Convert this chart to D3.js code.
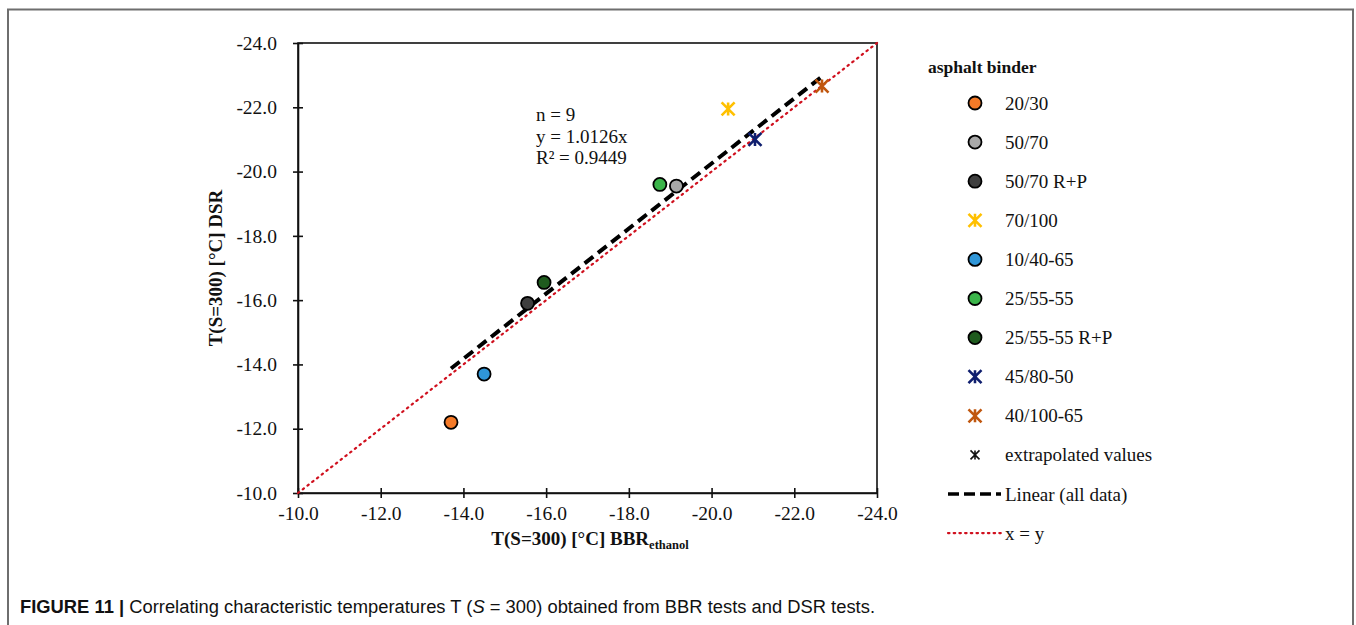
<!DOCTYPE html>
<html><head><meta charset="utf-8">
<script src="https://cdn.jsdelivr.net/npm/d3@7"></script>
<style>
html,body{margin:0;padding:0;background:#fff;}
svg{display:block;}
</style></head>
<body>
<svg id="c" width="1356" height="625"></svg>
<script>
// ---- data ----
const binders = ["20/30","50/70","50/70 R+P","70/100","10/40-65","25/55-55","25/55-55 R+P","45/80-50","40/100-65"];
const bbrValues = [-13.7,-19.15,-15.55,-20.4,-14.5,-18.75,-15.95,-21.05,-22.67];
const dsrValues = [-12.2,-19.55,-15.9,-21.95,-13.7,-19.6,-16.55,-21.0,-22.66];
const markerTypes = ["circle","circle","circle","star","circle","circle","circle","star","star"];
const markerColors = ["#F47A28","#A9A9A9","#3F3F3F","#FFC000","#2F96D8","#3BB54A","#1F5B1E","#0F1E6E","#C0570F"];
const xTicks = [-10,-12,-14,-16,-18,-20,-22,-24];
const yTicks = [-10,-12,-14,-16,-18,-20,-22,-24];
const slope = 1.0126;
const annotation = ["n = 9","y = 1.0126x","R\u00B2 = 0.9449"];

const svg = d3.select("#c");
const serif = "'Liberation Serif','Times New Roman',serif";
const fmt = d => d.toFixed(1); // keeps ASCII hyphen-minus

// frame
svg.append("path").attr("d","M8,625 V9.5 H1353 V625").attr("fill","none").attr("stroke","#6e6e6e").attr("stroke-width",2);

const x = d3.scaleLinear().domain([-10,-24]).range([298,877]);
const y = d3.scaleLinear().domain([-10,-24]).range([493,43]);

// plot box
const g = svg.append("g");
g.append("rect").attr("x",x(-10)).attr("y",y(-24)).attr("width",x(-24)-x(-10)).attr("height",y(-10)-y(-24))
 .attr("fill","none").attr("stroke","#111").attr("stroke-width",1.6);

// axes
const xAxis = d3.axisBottom(x).tickValues(xTicks).tickFormat(fmt).tickSizeInner(5).tickSizeOuter(0).tickPadding(18);
const gx = g.append("g").attr("transform",`translate(0,${y(-10)})`).call(xAxis);
gx.select(".domain").attr("stroke","#111").attr("stroke-width",1.6);
gx.selectAll(".tick line").attr("y1",-5).attr("y2",5).attr("stroke","#111").attr("stroke-width",1.6);
gx.selectAll(".tick text").attr("font-family",serif).attr("font-size",19.5).attr("fill","#111").attr("dy","0.2em");

const yAxis = d3.axisLeft(y).tickValues(yTicks).tickFormat(fmt).tickSizeInner(5).tickSizeOuter(0).tickPadding(16);
const gy = g.append("g").attr("transform",`translate(${x(-10)},0)`).call(yAxis);
gy.select(".domain").attr("stroke","#111").attr("stroke-width",1.6);
gy.selectAll(".tick line").attr("x1",-5).attr("x2",5).attr("stroke","#111").attr("stroke-width",1.6);
gy.selectAll(".tick text").attr("font-family",serif).attr("font-size",19.5).attr("fill","#111");

// x = y line
g.append("line").attr("x1",x(-10)).attr("y1",y(-10)).attr("x2",x(-24)).attr("y2",y(-24))
 .attr("stroke","#D0101E").attr("stroke-width",2.2).attr("stroke-dasharray","1.5,4.5").attr("stroke-linecap","round");

// linear fit
const xmin = d3.max(bbrValues), xmax = d3.min(bbrValues);
g.append("line").attr("x1",x(xmin)).attr("y1",y(slope*xmin)).attr("x2",x(xmax)).attr("y2",y(slope*xmax))
 .attr("stroke","#000").attr("stroke-width",4).attr("stroke-dasharray","11,6");

function drawMarker(sel, type, color, cx, cy){
  if(type==="circle"){
    sel.append("circle").attr("cx",cx).attr("cy",cy).attr("r",6.5).attr("fill",color).attr("stroke","#000").attr("stroke-width",1.8);
  } else {
    const s=6.5;
    sel.append("path").attr("d",`M${cx-s},${cy-s}L${cx+s},${cy+s}M${cx+s},${cy-s}L${cx-s},${cy+s}M${cx},${cy-s}L${cx},${cy+s}`)
      .attr("stroke",color).attr("stroke-width",2.6).attr("fill","none");
  }
}

// points
binders.forEach((b,i)=>{
  drawMarker(g, markerTypes[i], markerColors[i], x(bbrValues[i]), y(dsrValues[i]));
});

// annotation
annotation.forEach((t,i)=>{
  g.append("text").attr("x",536).attr("y",121+i*21.5).attr("font-family",serif).attr("font-size",19).attr("fill","#111").text(t);
});

// axis titles
svg.append("text").attr("transform","translate(222,268) rotate(-90)").attr("text-anchor","middle")
 .attr("font-family",serif).attr("font-weight","bold").attr("font-size",19).attr("fill","#111").text("T(S=300) [°C] DSR");
const xt = svg.append("text").attr("x",590).attr("y",545).attr("text-anchor","middle")
 .attr("font-family",serif).attr("font-weight","bold").attr("font-size",19).attr("fill","#111");
xt.append("tspan").text("T(S=300) [°C] BBR");
xt.append("tspan").attr("font-size",12.5).attr("dy",4).text("ethanol");

// legend
const lg = svg.append("g");
lg.append("text").attr("x",928).attr("y",73).attr("font-family",serif).attr("font-weight","bold").attr("font-size",17.5).attr("fill","#111").text("asphalt binder");
const ly0 = 103, ldy = 39.1;
binders.forEach((b,i)=>{
  const yy = ly0 + i*ldy;
  drawMarker(lg, markerTypes[i], markerColors[i], 975, yy);
  lg.append("text").attr("x",1005).attr("y",yy+6.5).attr("font-family",serif).attr("font-size",19).attr("fill","#111").text(b);
});
{
  const yy = ly0 + 9*ldy;
  const s=4.5, cx=975;
  lg.append("path").attr("d",`M${cx-s},${yy-s}L${cx+s},${yy+s}M${cx+s},${yy-s}L${cx-s},${yy+s}M${cx},${yy-s}L${cx},${yy+s}`)
    .attr("stroke","#111").attr("stroke-width",1.6).attr("fill","none");
  lg.append("text").attr("x",1005).attr("y",yy+6.5).attr("font-family",serif).attr("font-size",19).attr("fill","#111").text("extrapolated values");
}
{
  const yy = ly0 + 10*ldy;
  lg.append("line").attr("x1",948).attr("x2",1001).attr("y1",yy).attr("y2",yy).attr("stroke","#000").attr("stroke-width",3.5).attr("stroke-dasharray","11,5");
  lg.append("text").attr("x",1005).attr("y",yy+6.5).attr("font-family",serif).attr("font-size",19).attr("fill","#111").text("Linear (all data)");
}
{
  const yy = ly0 + 11*ldy;
  lg.append("line").attr("x1",948).attr("x2",1001).attr("y1",yy).attr("y2",yy).attr("stroke","#D0101E").attr("stroke-width",2.2).attr("stroke-dasharray","1.5,4.2").attr("stroke-linecap","round");
  lg.append("text").attr("x",1005).attr("y",yy+6.5).attr("font-family",serif).attr("font-size",19).attr("fill","#111").text("x = y");
}

// caption
const cap = svg.append("text").attr("x",20).attr("y",613).attr("font-family","'Liberation Sans',Arial,sans-serif").attr("font-size",18).attr("fill","#111")
  .attr("textLength",855).attr("lengthAdjust","spacingAndGlyphs");
cap.append("tspan").attr("font-weight","bold").text("FIGURE 11 | ");
cap.append("tspan").text("Correlating characteristic temperatures T (");
cap.append("tspan").attr("font-style","italic").text("S");
cap.append("tspan").text(" = 300) obtained from BBR tests and DSR tests.");
</script>
</body></html>
